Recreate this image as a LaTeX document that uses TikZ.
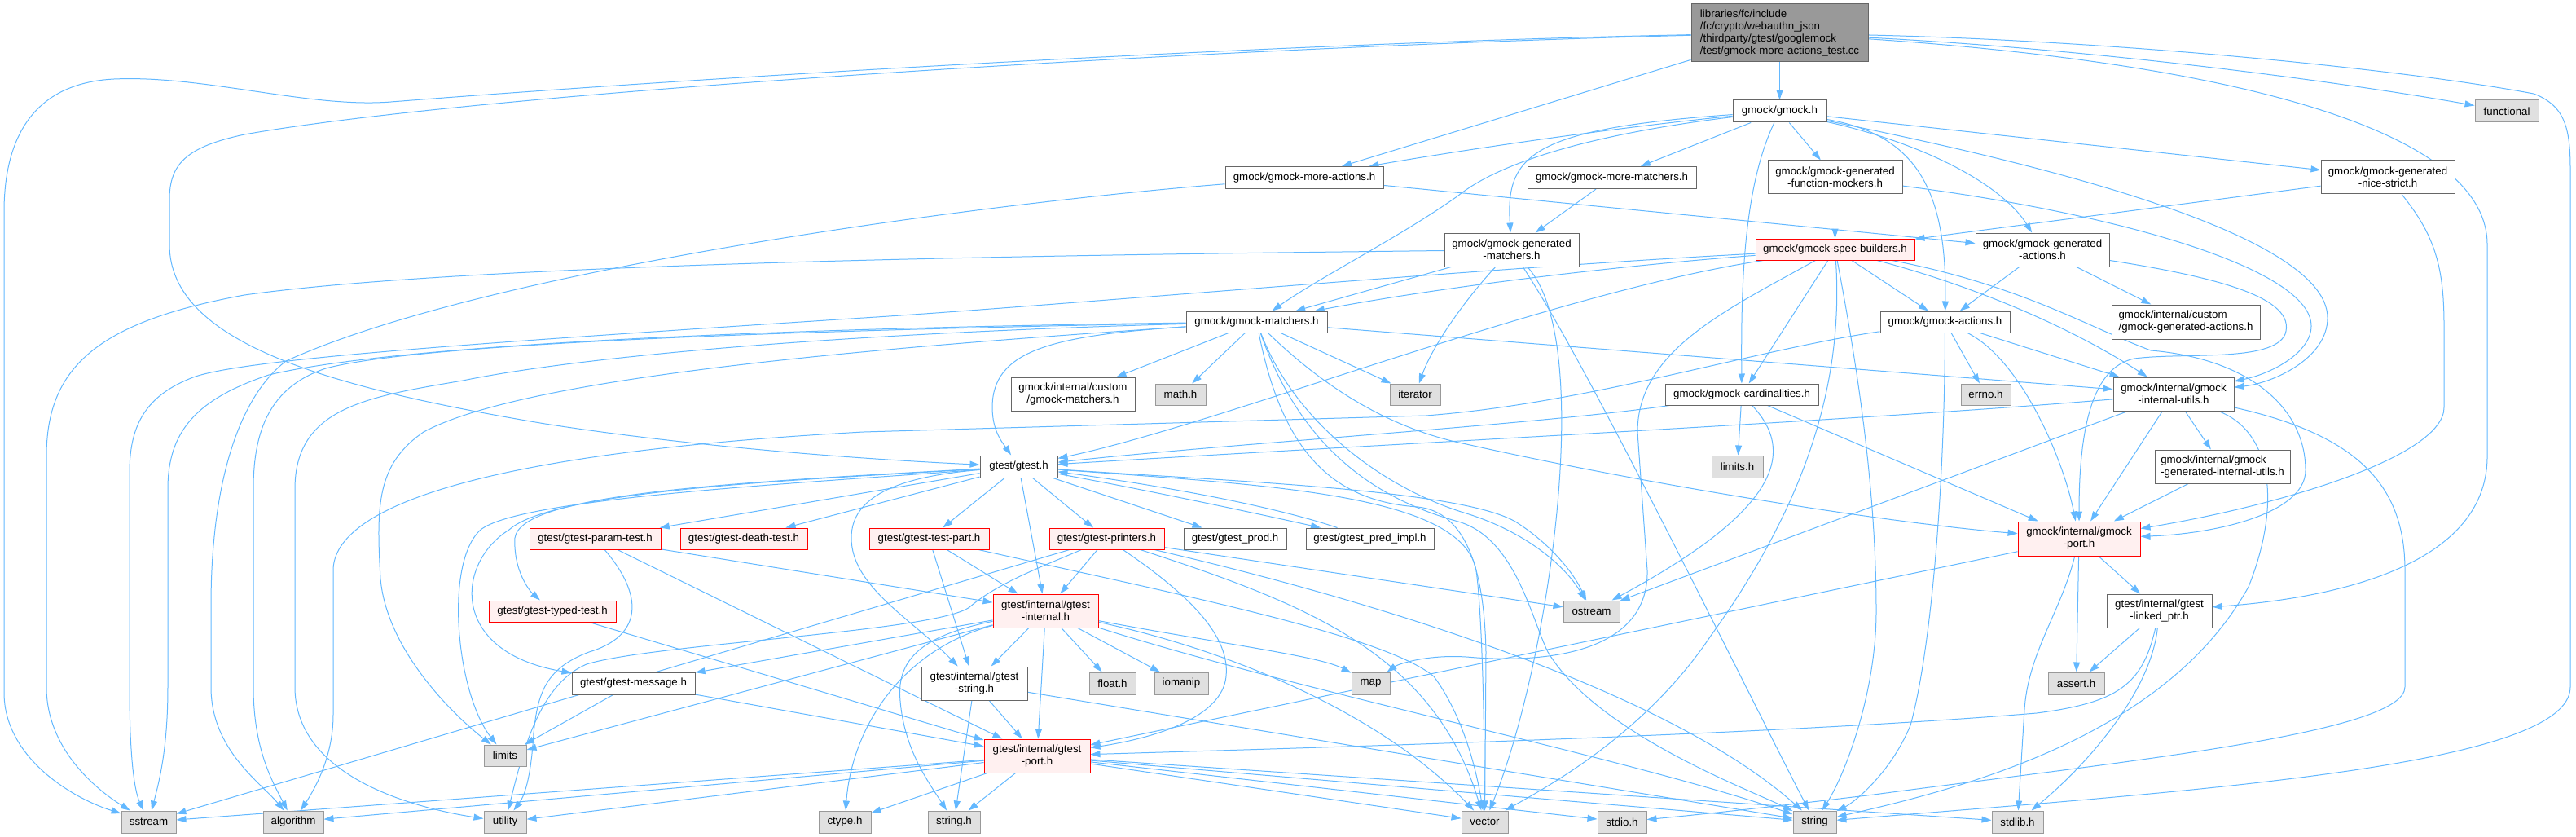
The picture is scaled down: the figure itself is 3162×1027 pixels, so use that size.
\documentclass[tikz,border=0pt]{standalone}
\usepackage{fontspec}
\setmainfont{Liberation Sans}
\usetikzlibrary{arrows.meta}
\definecolor{edgec}{HTML}{63B8FF}
\definecolor{nbord}{HTML}{666666}
\definecolor{sfill}{HTML}{E0E0E0}
\definecolor{sbord}{HTML}{999999}
\definecolor{rfill}{HTML}{FFF0F0}
\definecolor{rootfill}{HTML}{999999}
\pgfdeclarelayer{edgelayer}
\pgfsetlayers{edgelayer,main}
\newcommand{\mynode}[6]{\node[#1, minimum width=#4pt, minimum height=#5pt] (#2) at (#3) {#6};}
\begin{document}
\begin{tikzpicture}[x=1pt,y=-1pt,
  font=\fontsize{13.3pt}{15pt}\selectfont,
  nb/.style={draw=nbord, fill=white, line width=1pt, inner sep=0pt, align=center},
  nbl/.style={nb, align=left},
  sysn/.style={nb, draw=sbord, fill=sfill},
  redn/.style={nb, draw=red, fill=rfill},
  rootn/.style={nb, fill=rootfill, align=left},
  ed/.style={draw=edgec, line width=1pt, -{Triangle[length=12pt,width=8pt]}}]
\useasboundingbox (0,0) rectangle (3162,1027);

% ---------- nodes ----------
\mynode{rootn}{root}{2184.5,40.5}{217}{71}{libraries/fc/include\\/fc/crypto/webauthn\_json\\/thirdparty/gtest/googlemock\\/test/gmock-more-actions\_test.cc}
\mynode{nb}{gmock}{2184.5,136.5}{115}{27}{gmock/gmock.h}
\mynode{sysn}{functional}{3077,136.5}{78}{27}{functional}
\mynode{nb}{moreactions}{1601,218}{194}{27}{gmock/gmock-more-actions.h}
\mynode{nb}{morematchers}{1978.5,218}{207}{27}{gmock/gmock-more-matchers.h}
\mynode{nb}{genfunc}{2252.5,217.5}{165}{41}{gmock/gmock-generated\\-function-mockers.h}
\mynode{nb}{nicestrict}{2931,217.5}{164}{41}{gmock/gmock-generated\\-nice-strict.h}
\mynode{nb}{genmatchers}{1855.5,306.5}{165}{41}{gmock/gmock-generated\\-matchers.h}
\mynode{redn}{specbuilders}{2252.5,306}{195}{26}{gmock/gmock-spec-builders.h}
\mynode{nb}{genactions}{2507,306.5}{164}{41}{gmock/gmock-generated\\-actions.h}
\mynode{nb}{matchers}{1542.5,395}{173}{26}{gmock/gmock-matchers.h}
\mynode{nb}{actions}{2387.5,395}{159}{26}{gmock/gmock-actions.h}
\mynode{nbl}{customgenactions}{2683,395}{182}{42}{gmock/internal/custom\\/gmock-generated-actions.h}
\mynode{nb}{custommatchers}{1317,483.5}{152}{41}{gmock/internal/custom\\/gmock-matchers.h}
\mynode{sysn}{math}{1449,484}{62}{26}{math.h}
\mynode{sysn}{iterator}{1737,484}{62}{26}{iterator}
\mynode{nb}{cardinalities}{2138,484}{188}{26}{gmock/gmock-cardinalities.h}
\mynode{sysn}{errno}{2437.5,484}{61}{26}{errno.h}
\mynode{nb}{internalutils}{2668,483.5}{148}{41}{gmock/internal/gmock\\-internal-utils.h}
\mynode{sysn}{limitsh}{2132.5,572.5}{63}{27}{limits.h}
\mynode{nbl}{geninternalutils}{2728,572.5}{166}{41}{gmock/internal/gmock\\-generated-internal-utils.h}
\mynode{redn}{gmockport}{2552,661}{150}{42}{gmock/internal/gmock\\-port.h}
\mynode{nb}{linkedptr}{2650.5,749.5}{129}{41}{gtest/internal/gtest\\-linked\_ptr.h}
\mynode{sysn}{assert}{2548.5,838.5}{69}{27}{assert.h}
\mynode{sysn}{string}{2227.5,1008.5}{53}{27}{string}
\mynode{sysn}{stdlib}{2476.5,1008.5}{63}{27}{stdlib.h}
\mynode{nb}{gtest}{1250.5,572.5}{95}{27}{gtest/gtest.h}
\mynode{redn}{testpart}{1140.5,661}{147}{26}{gtest/gtest-test-part.h}
\mynode{redn}{printers}{1358.5,661}{141}{26}{gtest/gtest-printers.h}
\mynode{nb}{prod}{1516,661}{126}{26}{gtest/gtest\_prod.h}
\mynode{nb}{predimpl}{1681.5,661}{157}{26}{gtest/gtest\_pred\_impl.h}
\mynode{sysn}{ostream}{1953.5,750}{69}{26}{ostream}
\mynode{redn}{gtestinternal}{1283.5,749.5}{129}{41}{gtest/internal/gtest\\-internal.h}
\mynode{nb}{gteststring}{1196,838.5}{130}{41}{gtest/internal/gtest\\-string.h}
\mynode{sysn}{float}{1365.5,838.5}{57}{27}{float.h}
\mynode{sysn}{iomanip}{1450,838.5}{66}{27}{iomanip}
\mynode{sysn}{map}{1682.5,838.5}{47}{27}{map}
\mynode{redn}{gtestport}{1273,927.5}{130}{41}{gtest/internal/gtest\\-port.h}
\mynode{sysn}{stringh}{1171,1008.5}{64}{27}{string.h}
\mynode{sysn}{vector}{1822.5,1008.5}{57}{27}{vector}
\mynode{sysn}{stdio}{1991,1008.5}{60}{27}{stdio.h}
\mynode{sysn}{ctype}{1037,1008.5}{64}{27}{ctype.h}
\mynode{redn}{paramtest}{730.5,661}{161}{26}{gtest/gtest-param-test.h}
\mynode{redn}{deathtest}{913,661}{156}{26}{gtest/gtest-death-test.h}
\mynode{redn}{typedtest}{678,750}{156}{26}{gtest/gtest-typed-test.h}
\mynode{nb}{message}{777.5,838.5}{151}{27}{gtest/gtest-message.h}
\mynode{sysn}{limits}{620,927}{52}{26}{limits}
\mynode{sysn}{sstream}{182.5,1008.5}{67}{27}{sstream}
\mynode{sysn}{algorithm}{360,1008.5}{74}{27}{algorithm}
\mynode{sysn}{utility}{620,1008.5}{52}{27}{utility}

% ---------- edges ----------
\begin{pgfonlayer}{edgelayer}
% root
\draw[ed] (root) .. controls (1600,52) and (900,92) .. (480,125) .. controls (380,133) and (250,92) .. (140,97) .. controls (40,102) and (5,170) .. (5,260) -- (5,850) .. controls (5,930) and (90,980) .. (sstream);
\draw[ed] (root) .. controls (1500,58) and (600,112) .. (300,165) .. controls (230,180) and (208,200) .. (208,245) -- (208,300) .. controls (208,420) and (400,475) .. (669,520) .. controls (850,548) and (1050,563) .. (gtest);
\draw[ed] (root) -- (moreactions);
\draw[ed] (root) -- (gmock);
\draw[ed] (root) .. controls (2600,62) and (2900,105) .. (functional);
\draw[ed] (root) .. controls (2600,50) and (2950,85) .. (3110,115) .. controls (3150,130) and (3155,160) .. (3155,210) -- (3155,843) .. controls (3155,940) and (2700,970) .. (string);
\draw[ed] (root) .. controls (2700,75) and (3053,150) .. (3053,300) -- (3053,560) .. controls (3053,700) and (2850,735) .. (linkedptr);
% gmock
\draw[ed] (gmock) .. controls (1950,160) and (1760,190) .. (moreactions);
\draw[ed] (gmock) -- (morematchers);
\draw[ed] (gmock) .. controls (1880,158) and (1848,190) .. (genmatchers);
\draw[ed] (gmock) .. controls (1950,165) and (1840,200) .. (1790,240) .. controls (1720,290) and (1620,340) .. (matchers);
\draw[ed] (gmock) .. controls (2140,230) and (2137,350) .. (cardinalities);
\draw[ed] (gmock) -- (genfunc);
\draw[ed] (gmock) .. controls (2350,165) and (2390,230) .. (actions);
\draw[ed] (gmock) .. controls (2370,178) and (2460,230) .. (genactions);
\draw[ed] (gmock) .. controls (2450,190) and (2857,280) .. (2857,390) .. controls (2857,440) and (2790,470) .. (internalutils);
\draw[ed] (gmock) -- (nicestrict);
% more-actions / more-matchers
\draw[ed] (moreactions) .. controls (1200,250) and (600,330) .. (351,443) .. controls (290,490) and (259,600) .. (259,743) -- (259,843) .. controls (259,920) and (320,960) .. (algorithm);
\draw[ed] (moreactions) -- (genactions);
\draw[ed] (morematchers) -- (genmatchers);
% generated function mockers / nice strict
\draw[ed] (genfunc) -- (specbuilders);
\draw[ed] (genfunc) .. controls (2600,262) and (2837,330) .. (2837,400) .. controls (2837,432) and (2790,458) .. (internalutils);
\draw[ed] (nicestrict) -- (specbuilders);
\draw[ed] (nicestrict) .. controls (2990,290) and (3000,330) .. (3000,400) -- (3000,500) .. controls (3000,560) and (2800,620) .. (gmockport);
% generated matchers
\draw[ed] (genmatchers) -- (matchers);
\draw[ed] (genmatchers) .. controls (1805,360) and (1760,420) .. (iterator);
\draw[ed] (genmatchers) .. controls (1400,312) and (600,320) .. (300,362) .. controls (120,395) and (57,450) .. (57,560) -- (57,843) .. controls (57,920) and (120,970) .. (sstream);
\draw[ed] (genmatchers) .. controls (1950,450) and (2120,800) .. (string);
\draw[ed] (genmatchers) .. controls (1960,420) and (1900,820) .. (vector);
% spec builders
\draw[ed] (specbuilders) .. controls (1800,330) and (1300,375) .. (1060,390) .. controls (600,420) and (300,440) .. (237,463) .. controls (180,485) and (159,520) .. (159,580) -- (159,843) .. controls (159,930) and (165,970) .. (sstream);
\draw[ed] (specbuilders) .. controls (2000,325) and (1780,350) .. (matchers);
\draw[ed] (specbuilders) .. controls (1900,360) and (1500,520) .. (gtest);
\draw[ed] (specbuilders) -- (actions);
\draw[ed] (specbuilders) -- (cardinalities);
\draw[ed] (specbuilders) .. controls (2420,350) and (2540,400) .. (internalutils);
\draw[ed] (specbuilders) .. controls (2480,350) and (2560,400) .. (2640,430) .. controls (2760,440) and (2830,500) .. (2830,577) .. controls (2830,630) and (2720,655) .. (gmockport);
\draw[ed] (specbuilders) .. controls (2120,380) and (2010,430) .. (2010,530) -- (2022,700) .. controls (2024,800) and (1900,815) .. (1800,806) .. controls (1750,803) and (1716,815) .. (map);
\draw[ed] (specbuilders) .. controls (2262,450) and (2230,600) .. (2100,780) .. controls (2020,900) and (1900,965) .. (vector);
\draw[ed] (specbuilders) .. controls (2280,450) and (2303,600) .. (2303,750) .. controls (2303,850) and (2265,950) .. (string);
% generated actions
\draw[ed] (genactions) -- (actions);
\draw[ed] (genactions) -- (customgenactions);
\draw[ed] (genactions) .. controls (2720,340) and (2820,365) .. (2805,410) .. controls (2790,445) and (2680,432) .. (2620,440) .. controls (2570,450) and (2552,520) .. (gmockport);
% matchers
\draw[ed] (matchers) -- (custommatchers);
\draw[ed] (matchers) -- (math);
\draw[ed] (matchers) -- (iterator);
\draw[ed] (matchers) -- (internalutils);
\draw[ed] (matchers) .. controls (1620,470) and (1700,525) .. (1800,545) .. controls (2000,590) and (2300,640) .. (gmockport);
\draw[ed] (matchers) .. controls (1290,412) and (1218,430) .. (1218,500) .. controls (1218,530) and (1232,545) .. (gtest);
\draw[ed] (matchers) .. controls (1100,425) and (650,460) .. (520,530) .. controls (462,570) and (462,620) .. (467,710) .. controls (475,800) and (560,880) .. (limits);
\draw[ed] (matchers) .. controls (1000,402) and (500,420) .. (330,460) .. controls (240,490) and (206,530) .. (206,600) -- (206,843) .. controls (206,920) and (195,960) .. (sstream);
\draw[ed] (matchers) .. controls (1000,405) and (520,420) .. (400,452) .. controls (330,475) and (311,530) .. (311,600) -- (311,843) .. controls (311,920) and (335,960) .. (algorithm);
\draw[ed] (matchers) .. controls (1000,410) and (700,440) .. (568,467) .. controls (450,487) and (362,500) .. (362,600) -- (362,843) .. controls (362,950) and (500,990) .. (utility);
\draw[ed] (matchers) .. controls (1590,520) and (1700,600) .. (1800,630) .. controls (1880,655) and (1925,700) .. (ostream);
\draw[ed] (matchers) .. controls (1575,560) and (1640,615) .. (1740,622) .. controls (1800,628) and (1822,700) .. (1824,800) -- (vector);
\draw[ed] (matchers) .. controls (1600,560) and (1700,615) .. (1790,640) .. controls (1860,660) and (1880,760) .. (1900,800) .. controls (1960,900) and (2150,970) .. (string);
% actions
\draw[ed] (actions) .. controls (2150,430) and (1950,495) .. (1750,510) -- (1060,530) .. controls (600,555) and (409,620) .. (409,700) -- (409,877) .. controls (409,930) and (385,970) .. (algorithm);
\draw[ed] (actions) .. controls (2387,600) and (2370,800) .. (2345,890) .. controls (2320,950) and (2275,985) .. (string);
\draw[ed] (actions) -- (errno);
\draw[ed] (actions) -- (internalutils);
\draw[ed] (actions) .. controls (2479,440) and (2532,560) .. (gmockport);
% cardinalities
\draw[ed] (cardinalities) -- (limitsh);
\draw[ed] (cardinalities) .. controls (2200,550) and (2195,620) .. (ostream);
\draw[ed] (cardinalities) -- (gmockport);
\draw[ed] (cardinalities) .. controls (1900,520) and (1500,545) .. (gtest);
% internal utils
\draw[ed] (internalutils) .. controls (2300,515) and (1700,545) .. (gtest);
\draw[ed] (internalutils) -- (ostream);
\draw[ed] (internalutils) -- (gmockport);
\draw[ed] (internalutils) -- (geninternalutils);
\draw[ed] (internalutils) .. controls (2790,530) and (2800,620) .. (2760,720) .. controls (2660,900) and (2420,965) .. (string);
\draw[ed] (internalutils) .. controls (2900,535) and (2952,600) .. (2952,700) -- (2952,843) .. controls (2952,900) and (2600,935) .. (2300,975) .. controls (2150,993) and (2080,1000) .. (stdio);
\draw[ed] (geninternalutils) -- (gmockport);
% gmock port / linked_ptr
\draw[ed] (gmockport) -- (assert);
\draw[ed] (gmockport) .. controls (2530,750) and (2490,800) .. (2485,870) -- (stdlib);
\draw[ed] (gmockport) -- (linkedptr);
\draw[ed] (gmockport) -- (gtestport);
\draw[ed] (linkedptr) -- (assert);
\draw[ed] (linkedptr) .. controls (2640,850) and (2560,940) .. (stdlib);
\draw[ed] (linkedptr) .. controls (2630,840) and (2600,862) .. (2500,875) .. controls (2200,900) and (1700,915) .. (gtestport);
% gtest
\draw[ed] (gtest) .. controls (1000,592) and (640,610) .. (590,650) .. controls (545,690) and (560,850) .. (limits);
\draw[ed] (gtest) .. controls (1000,588) and (680,600) .. (625,650) .. controls (560,690) and (550,800) .. (message);
\draw[ed] (gtest) -- (paramtest);
\draw[ed] (gtest) -- (deathtest);
\draw[ed] (gtest) .. controls (900,592) and (640,605) .. (632,660) .. controls (630,700) and (650,725) .. (typedtest);
\draw[ed] (gtest) -- (testpart);
\draw[ed] (gtest) -- (printers);
\draw[ed] (gtest) -- (prod);
\draw[ed] (gtest) .. controls (1400,600) and (1520,625) .. (predimpl);
\draw[ed] (predimpl) .. controls (1560,620) and (1420,595) .. (gtest);
\draw[ed] (gtest) -- (gtestinternal);
\draw[ed] (gtest) .. controls (1100,585) and (1045,610) .. (1045,660) .. controls (1045,720) and (1120,760) .. (gteststring);
\draw[ed] (gtest) .. controls (1500,590) and (1790,600) .. (1860,640) .. controls (1900,665) and (1930,700) .. (ostream);
\draw[ed] (gtest) .. controls (1550,595) and (1795,605) .. (1812,700) .. controls (1820,760) and (1822,900) .. (vector);
% test part
\draw[ed] (testpart) -- (gtestinternal);
\draw[ed] (testpart) -- (gteststring);
\draw[ed] (testpart) .. controls (1450,730) and (1700,780) .. (1760,830) .. controls (1790,870) and (1810,930) .. (vector);
% printers
\draw[ed] (printers) -- (sstream);
\draw[ed] (printers) -- (gtestinternal);
\draw[ed] (printers) .. controls (1280,695) and (1225,715) .. (1190,745) .. controls (1150,775) and (800,790) .. (720,815) .. controls (660,840) and (640,930) .. (utility);
\draw[ed] (printers) .. controls (1460,730) and (1510,780) .. (1505,830) .. controls (1500,880) and (1420,905) .. (gtestport);
\draw[ed] (printers) -- (ostream);
\draw[ed] (printers) .. controls (1600,740) and (1760,800) .. (vector);
\draw[ed] (printers) .. controls (1700,740) and (2050,850) .. (string);
% param / typed test / message
\draw[ed] (paramtest) .. controls (790,730) and (790,780) .. (723,800) .. controls (670,820) and (660,850) .. (655,900) .. controls (652,950) and (645,975) .. (utility);
\draw[ed] (paramtest) -- (gtestinternal);
\draw[ed] (paramtest) -- (gtestport);
\draw[ed] (typedtest) -- (gtestport);
\draw[ed] (message) -- (limits);
\draw[ed] (message) -- (gtestport);
% gtest internal
\draw[ed] (gtestinternal) -- (message);
\draw[ed] (gtestinternal) -- (limits);
\draw[ed] (gtestinternal) .. controls (1100,800) and (1045,900) .. (ctype);
\draw[ed] (gtestinternal) .. controls (1130,780) and (1100,810) .. (1105,860) .. controls (1110,920) and (1140,960) .. (stringh);
\draw[ed] (gtestinternal) -- (gteststring);
\draw[ed] (gtestinternal) -- (gtestport);
\draw[ed] (gtestinternal) -- (float);
\draw[ed] (gtestinternal) -- (iomanip);
\draw[ed] (gtestinternal) .. controls (1500,790) and (1620,805) .. (map);
\draw[ed] (gtestinternal) .. controls (1520,800) and (1700,880) .. (vector);
\draw[ed] (gtestinternal) .. controls (1600,850) and (2000,930) .. (string);
% gtest string
\draw[ed] (gteststring) -- (stringh);
\draw[ed] (gteststring) -- (gtestport);
\draw[ed] (gteststring) -- (string);
% gtest port
\draw[ed] (gtestport) -- (sstream);
\draw[ed] (gtestport) -- (algorithm);
\draw[ed] (gtestport) -- (utility);
\draw[ed] (gtestport) -- (ctype);
\draw[ed] (gtestport) -- (stringh);
\draw[ed] (gtestport) -- (vector);
\draw[ed] (gtestport) -- (string);
\draw[ed] (gtestport) -- (stdio);
\draw[ed] (gtestport) -- (stdlib);
\end{pgfonlayer}
\end{tikzpicture}
\end{document}
